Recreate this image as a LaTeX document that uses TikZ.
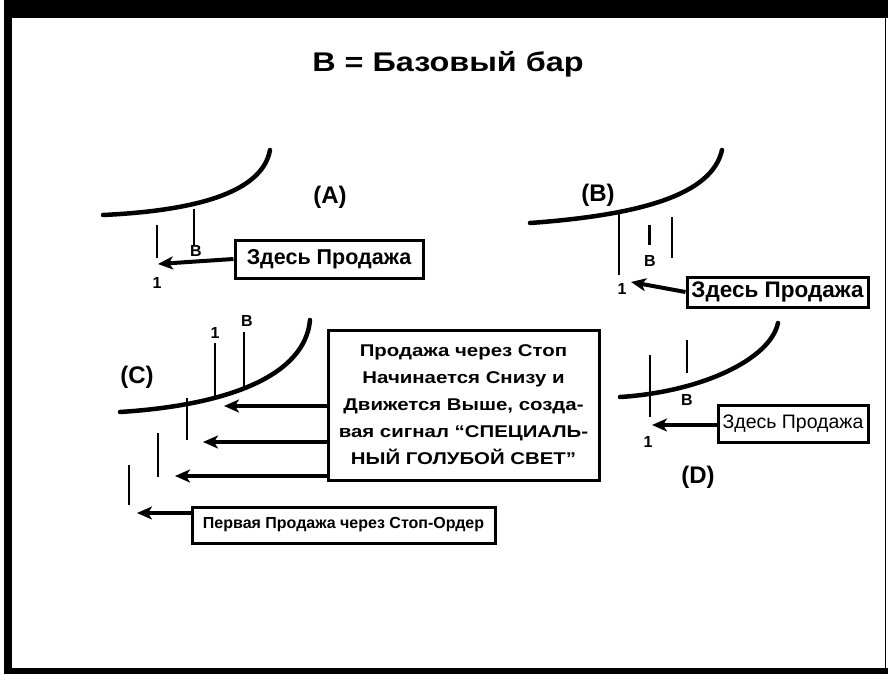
\documentclass[tikz,border=0pt]{standalone}
\usepackage{fontspec}
\setmainfont{Liberation Sans}
\newfontfamily\widefont[FakeStretch=1.2]{Liberation Sans}
\usetikzlibrary{arrows.meta}
\newcommand{\pxfont}[2]{\fontsize{#1}{#2}\selectfont}

\begin{document}
\begin{tikzpicture}[
    x=1pt, y=-1pt,
    curve/.style={line width=4.5pt, line cap=round},
    bar/.style={line width=2.6pt},
    sellbox/.style={rectangle, draw=black, line width=3pt, font=\bfseries\pxfont{21.5}{25}, inner sep=0pt},
    sell/.style={-{Stealth[length=15pt, width=13pt, inset=4pt]}, line width=4pt},
    tag/.style={font=\bfseries\pxfont{16}{18}, inner sep=0pt},
    panel/.style={font=\bfseries\pxfont{24}{28}},
]
% RAMKA
\useasboundingbox (0,0) rectangle (888,674);
\fill (4,0) rectangle (888,18);
\fill (4,0) rectangle (12,674);
\fill (4,668) rectangle (888,674);
\draw[line width=1pt] (885,18) -- (885,668);
\node[font=\widefont\bfseries\pxfont{27}{32}] (title) at (448,64) {B = Базовый бар};
% (A)
\node[panel] (labA) at (330,197) {(A)};
\draw[curve] (103,215) .. controls (188,211) and (262,195) .. (270,150);
\draw[bar] (194,209) -- (194,246);
\node[tag] (bA) at (196,251) {B};
\draw[bar] (157,225) -- (157,258);
\node[tag] (oneA) at (157,283) {1};
\node[sellbox, minimum width=188pt, minimum height=38pt] (sellA) at (329,259) {Здесь Продажа};
\coordinate (tipA) at (158,264);
\draw[sell] (sellA.west) -- (tipA);
% (B)
\node[panel] (labB) at (598,195) {(B)};
\draw[curve] (530,223) .. controls (640,215) and (712,195) .. (722,150);
\draw[bar] (619,214) -- (619,275);
\node[tag] (oneB) at (622,289) {1};
\draw[bar, line width=3pt] (649,225) -- (649,245);
\node[tag] (bB) at (650,261) {B};
\draw[bar] (672,217) -- (672,258);
\node[sellbox, font=\bfseries\pxfont{22.5}{25}, minimum width=181pt, minimum height=30pt] (sellB) at (777.5,292) {Здесь Продажа};
\coordinate (tipB) at (631,282);
\draw[sell] (sellB.west) -- (tipB);
% (C)
\node[panel] (labC) at (137,377) {(C)};
\draw[curve] (120,412) .. controls (230,405) and (305,375) .. (310,320);
\draw[bar] (215,343) -- (215,398);
\node[tag] (oneC) at (215,333) {1};
\draw[bar] (244,332) -- (244,388);
\node[tag] (bC) at (247,321) {B};
\draw[bar] (187,398) -- (187,440);
\draw[bar] (158,433) -- (158,477);
\draw[bar] (129,465) -- (129,505);
\node[sellbox, font=\widefont\bfseries\pxfont{17}{27}, align=center, minimum width=271pt, minimum height=150pt] (stopC) at (463.5,405)
    {Продажа через Стоп\\Начинается Снизу и\\Движется Выше, созда-\\вая сигнал “СПЕЦИАЛЬ-\\НЫЙ ГОЛУБОЙ СВЕТ”};
\coordinate (tipC1) at (224,406);
\coordinate (tipC2) at (203,442);
\coordinate (tipC3) at (175,476);
\foreach \t in {tipC1, tipC2, tipC3}
    \draw[sell] (stopC.west |- \t) -- (\t);
\node[sellbox, font=\bfseries\pxfont{16}{18}, minimum width=303pt, minimum height=36pt] (firstC) at (343.5,525) {Первая Продажа через Стоп-Ордер};
\coordinate (tipC4) at (137,513);
\draw[sell] (firstC.west |- tipC4) -- (tipC4);
% (D)
\node[panel] (labD) at (698,477) {(D)};
\draw[curve] (620,397) .. controls (700,392) and (770,360) .. (778,323);
\draw[bar] (650,355) -- (650,417);
\node[tag] (oneD) at (648,442) {1};
\draw[bar] (687,340) -- (687,373);
\node[tag] (bD) at (687,400) {B};
\node[sellbox, font=\pxfont{19.5}{22}, minimum width=150pt, minimum height=37pt] (sellD) at (793,423.5) {Здесь Продажа};
\coordinate (tipD) at (652,425);
\draw[sell] (sellD.west |- tipD) -- (tipD);
\end{tikzpicture}
\end{document}
